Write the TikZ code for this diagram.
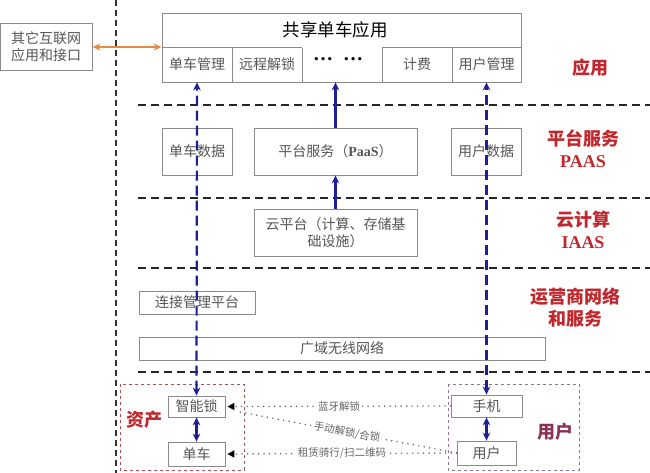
\documentclass[tikz,border=0pt]{standalone}
\usepackage{fontspec}
\setmainfont{Noto Sans CJK SC}
\newfontfamily\latb{Liberation Serif}
\usetikzlibrary{arrows.meta}
\definecolor{boxgray}{RGB}{138,138,138}
\definecolor{txtgray}{RGB}{85,85,85}
\definecolor{layerred}{RGB}{192,40,45}
\definecolor{userred}{RGB}{140,50,85}
\definecolor{navy}{RGB}{30,30,150}
\definecolor{orangec}{RGB}{228,140,70}
\begin{document}
\begin{tikzpicture}[x=1pt,y=-1pt,
  box/.style={draw=boxgray, line width=0.8pt, inner sep=0pt, text=txtgray,
    font=\fontsize{14}{17}\selectfont, align=center},
  layerline/.style={line width=1.8pt, dash pattern=on 8pt off 5pt, black!85},
  bluedash/.style={navy, line width=2.2pt, dash pattern=on 10pt off 5pt, {Stealth[length=8pt,width=7.5pt]}-{Stealth[length=8pt,width=7.5pt]}},
  bluearrow/.style={navy, line width=2.2pt, -{Stealth[length=8pt,width=7.5pt]}},
  dotline/.style={black!65, line width=1.6pt, line cap=round, dash pattern=on 0pt off 5.5pt},
  lbl/.style={fill=white, inner sep=1.5pt, text=black!60, font=\fontsize{10.5}{12}\selectfont},
  layer/.style={text=layerred, font=\fontsize{18}{22}\selectfont\bfseries, align=center},
  group/.style={line width=0.9pt, dashed}]
\useasboundingbox (0,0) rectangle (650,473);
% left border of the system
\draw[line width=1.3pt, dash pattern=on 6pt off 4pt, black!80] (116,0) -- (116,473);
% layer borders
\draw[layerline] (138,105) -- (650,105);
\draw[layerline] (138,198) -- (650,198);
\draw[layerline] (138,268) -- (650,268);
\draw[layerline] (138,372) -- (650,372);
% application
\node[box, minimum width=359pt, minimum height=69pt] (app) at (341.5,47.5) {};
\node[text=black, font=\fontsize{17.5}{20}\selectfont] (apptitle) at (335,30) {共享单车应用};
\node[box, minimum width=70pt, minimum height=35pt] (bikemgr) at (197,64.5) {单车管理};
\node[box, minimum width=70pt, minimum height=35pt] (unlock) at (267,64.5) {远程解锁};
\node[box, minimum width=70pt, minimum height=35pt] (billing) at (417,64.5) {计费};
\node[box, minimum width=69pt, minimum height=35pt] (usermgr) at (486.5,64.5) {用户管理};
\node[draw=white, line width=1.5pt, minimum width=78pt, minimum height=1pt, inner sep=0pt] (gap) at (342,47) {};
\node[text=black, font=\latb\bfseries\fontsize{20}{20}\selectfont] (dots) at (338,59) {…\enspace…};
\node[box, minimum width=92pt, minimum height=47pt] (other) at (46,47) {其它互联网\\应用和接口};
\draw[orangec, line width=2pt, {Stealth[length=8pt,width=7pt]}-{Stealth[length=8pt,width=7pt]}] (other.east) -- (other.east -| app.west);
% platform services
\node[box, minimum width=70pt, minimum height=47pt] (bikedata) at (197,151.5) {单车数据};
\node[box, minimum width=163pt, minimum height=47pt] (paas) at (335.5,151.5) {平台服务（{\latb\bfseries PaaS}）};
\node[box, minimum width=70pt, minimum height=47pt] (userdata) at (486,151.5) {用户数据};
% cloud
\node[box, minimum width=163pt, minimum height=47pt] (cloud) at (335.5,232.5) {云平台（计算、存储基\\础设施）};
% network
\node[box, minimum width=116pt, minimum height=23pt] (conn) at (197,302.5) {连接管理平台};
\node[box, minimum width=406pt, minimum height=23pt] (wan) at (342,348.5) {广域无线网络};
% assets and users
\draw[group, draw={rgb,255:red,176;green,80;blue,80}] (120,384) rectangle (244,470);
\draw[group, draw={rgb,255:red,140;green,120;blue,140}] (448,384) rectangle (579,470);
\node[box, minimum width=57pt, minimum height=21pt] (lock) at (196.5,406.5) {智能锁};
\node[box, minimum width=57pt, minimum height=24pt] (bike) at (196.5,454) {单车};
\node[box, minimum width=71pt, minimum height=22pt] (phone) at (486.5,406) {手机};
\node[box, minimum width=59pt, minimum height=24pt] (user) at (486.5,453) {用户};
% connectors
\draw[bluedash] (lock.north) -- (bikemgr.south);
\draw[bluedash] (phone.north) -- (usermgr.south);
\draw[bluearrow] (cloud.north) -- (paas.south);
\draw[bluearrow] (paas.north) -- (paas.north |- app.south);
\draw[bluearrow, {Stealth[length=8pt,width=7.5pt]}-{Stealth[length=8pt,width=7.5pt]}] (lock.south) -- (bike.north);
\draw[bluearrow, {Stealth[length=8pt,width=7.5pt]}-{Stealth[length=8pt,width=7.5pt]}] (phone.south) -- (user.north);
\draw[dotline, -{Triangle[length=7pt,width=7pt,color=black]}] (phone.west) -- node[lbl] {蓝牙解锁} ([xshift=2pt]lock.east);
\draw[dotline, -{Triangle[length=7pt,width=7pt,color=black]}] (user.west) -- node[lbl] {租赁骑行/扫二维码} ([xshift=2pt]bike.east);
\draw[dotline] (user.west) -- node[lbl, sloped] {手动解锁/合锁} ([xshift=12pt,yshift=-5pt]lock.east);
% layer names
\node[layer] (lapp) at (590,68) {应用};
\node[layer] (lpaas) at (583,149) {平台服务\\{\latb\bfseries PAAS}};
\node[layer] (liaas) at (583,230) {云计算\\{\latb\bfseries IAAS}};
\node[layer] (lnet) at (575,308) {运营商网络\\和服务};
\node[layer] (lasset) at (144,420) {资产};
\node[layer, text=userred] (luser) at (555,432) {用户};
\end{tikzpicture}
\end{document}
